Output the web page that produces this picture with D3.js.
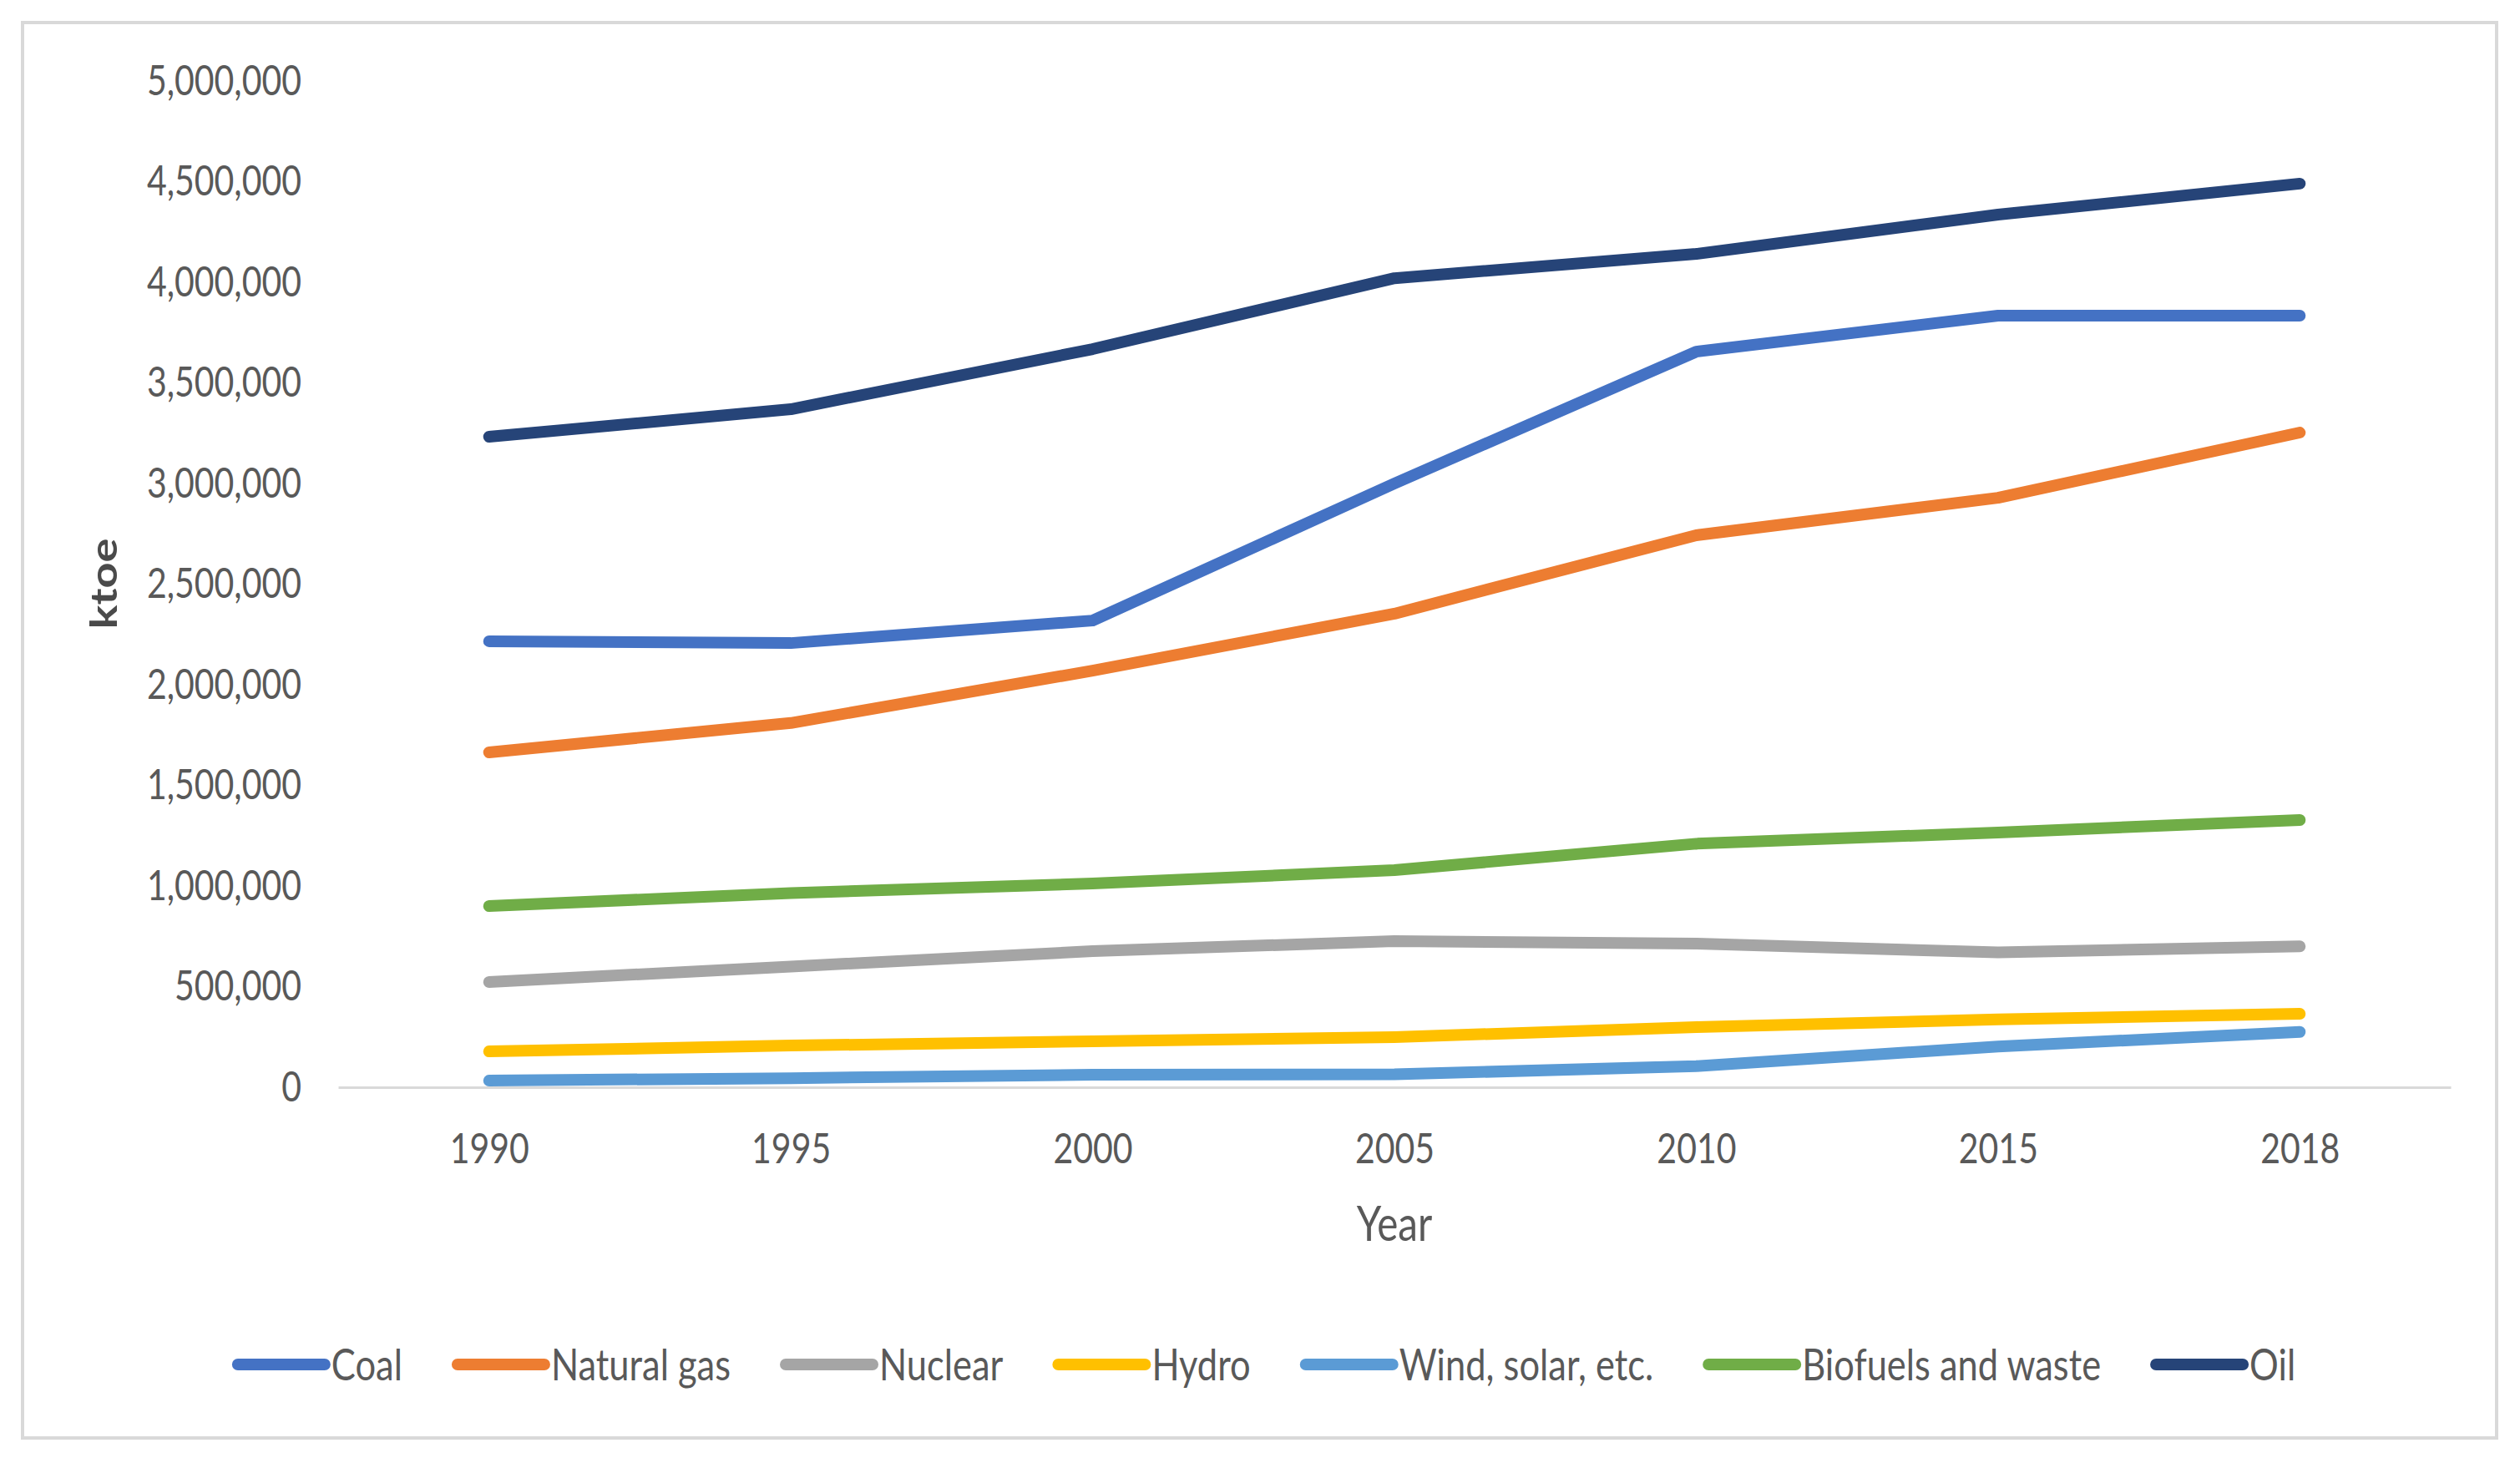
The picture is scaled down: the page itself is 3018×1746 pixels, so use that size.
<!DOCTYPE html>
<html>
<head>
<meta charset="utf-8">
<script src="https://cdn.jsdelivr.net/npm/d3@7"></script>
<style>
  body { margin: 0; background: #fff; }
  text { font-family: Lato, "Open Sans", sans-serif; fill: #595959; }
</style>
</head>
<body>
<div id="chart"></div>
<script>
const svgWidth = 3018;
const svgHeight = 1746;
const squeezeX = 0.82; // the picture's text is narrow, like Calibri

const years = ["1990", "1995", "2000", "2005", "2010", "2015", "2018"];
const yTicks = [0, 500000, 1000000, 1500000, 2000000, 2500000, 3000000, 3500000, 4000000, 4500000, 5000000];

const seriesNames = ["Coal", "Natural gas", "Nuclear", "Hydro", "Wind, solar, etc.", "Biofuels and waste", "Oil"];
const seriesColors = ["#4472C4", "#ED7D31", "#A5A5A5", "#FFC000", "#5B9BD5", "#70AD47", "#264478"];

const coal     = [2216000, 2207000, 2319000, 3000000, 3655000, 3834000, 3834000];
const gas      = [1664000, 1810000, 2070000, 2353000, 2743000, 2929000, 3253000];
const nuclear  = [523000, 600000, 676000, 726000, 714000, 670000, 700000];
const hydro    = [178000, 207000, 228000, 249000, 299000, 337000, 365000];
const wind     = [33000, 45000, 62000, 64000, 105000, 202000, 275000];
const biofuels = [900000, 965000, 1012000, 1079000, 1210000, 1266000, 1328000];
const oil      = [3232000, 3369000, 3668000, 4020000, 4141000, 4336000, 4490000];

const seriesValues = [coal, gas, nuclear, hydro, wind, biofuels, oil];

document.addEventListener("DOMContentLoaded", function(event){
    drawChart();
});

// move x/y into a transform so the text can be narrowed in place
function squeeze(sel){
    sel.each(function(){
        const t = d3.select(this);
        const x = +t.attr("x") || 0;
        const y = +t.attr("y") || 0;
        t.attr("x", null).attr("y", null)
         .attr("transform", "translate(" + x + "," + y + ") scale(" + squeezeX + ",1)");
    });
}

function drawChart(){

    const svg = d3.select("#chart")
                  .append("svg")
                  .attr("width", svgWidth)
                  .attr("height", svgHeight);

    // chart border
    svg.append("rect")
       .attr("x", 27).attr("y", 27)
       .attr("width", 2963).attr("height", 1695)
       .attr("fill", "none")
       .attr("stroke", "#D9D9D9")
       .attr("stroke-width", 4);

    const xscale = d3.scalePoint()
                     .domain(years)
                     .range([405, 2935])
                     .padding(0.5);

    const yscale = d3.scaleLinear()
                     .domain([0, 5000000])
                     .range([1302, 97]);

    const xaxis = d3.axisBottom(xscale).tickSize(0).tickSizeOuter(0).tickPadding(73);
    const yaxis = d3.axisLeft(yscale).tickValues(yTicks).tickFormat(d3.format(",")).tickSize(0).tickPadding(44);

    const gx = svg.append("g")
                  .attr("transform", "translate(0," + yscale(0) + ")")
                  .call(xaxis);
    gx.select(".domain").attr("stroke", "#D9D9D9").attr("stroke-width", 3);
    gx.selectAll("text").attr("font-size", 50).attr("fill", "#595959").attr("dy", "0.35em").call(squeeze);

    const gy = svg.append("g")
                  .attr("transform", "translate(405,0)")
                  .call(yaxis);
    gy.select(".domain").remove();
    gy.selectAll("text").attr("font-size", 50).attr("fill", "#595959").call(squeeze);

    // axis titles
    svg.append("text")
       .attr("transform", "translate(1670,1466) scale(" + squeezeX + ",1)")
       .attr("text-anchor", "middle")
       .attr("dy", "0.35em")
       .attr("font-size", 58)
       .text("Year");

    svg.append("text")
       .attr("transform", "translate(124,699) rotate(-90) scale(1," + squeezeX + ")")
       .attr("text-anchor", "middle")
       .attr("dy", "0.35em")
       .attr("font-size", 54)
       .attr("font-weight", "bold")
       .style("fill", "#4a4a4a")
       .text("ktoe");

    // the lines
    const line = d3.line()
                   .x(function(d, i){ return xscale(years[i]); })
                   .y(function(d){ return yscale(d); });

    seriesValues.forEach(function(values, i){
        svg.append("path")
           .datum(values)
           .attr("fill", "none")
           .attr("stroke", seriesColors[i])
           .attr("stroke-width", 14)
           .attr("stroke-linecap", "round")
           .attr("stroke-linejoin", "round")
           .attr("d", line);
    });

    // legend, centred in the chart area
    const legendY = 1634;
    const swatch = 104;
    const legend = svg.append("g");
    const items = [];
    seriesNames.forEach(function(name, i){
        const g = legend.append("g");
        g.append("line")
         .attr("x1", 0).attr("x2", swatch)
         .attr("y1", 0).attr("y2", 0)
         .attr("stroke", seriesColors[i])
         .attr("stroke-width", 14)
         .attr("stroke-linecap", "round");
        const t = g.append("text")
                   .attr("transform", "translate(" + (swatch + 8) + ",0) scale(" + squeezeX + ",1)")
                   .attr("dy", "0.35em")
                   .attr("font-size", 53)
                   .text(name);
        items.push({g: g, w: swatch + 8 + t.node().getComputedTextLength() * squeezeX});
    });
    const gap = 66;
    const total = d3.sum(items, function(d){ return d.w; }) + gap * (items.length - 1);
    let x = 1517 - total / 2;
    items.forEach(function(d){
        d.g.attr("transform", "translate(" + x + "," + legendY + ")");
        x += d.w + gap;
    });
}
</script>
</body>
</html>
